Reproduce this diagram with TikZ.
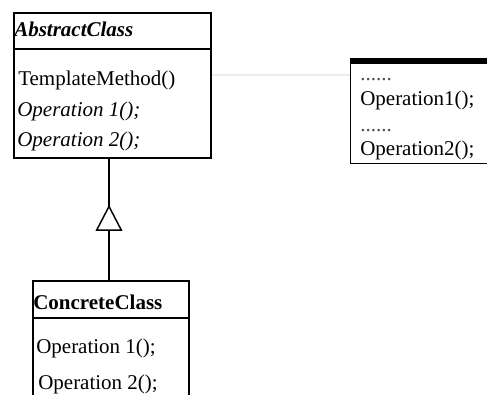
\documentclass[tikz,border=0pt]{standalone}
\usepackage{fontspec}
\setmainfont{Liberation Serif}
\usetikzlibrary{arrows.meta,decorations.markings}

\tikzset{
  classbox/.style={draw, line width=1.3pt, inner sep=0pt, anchor=north west},
  member/.style={anchor=base west, inner sep=0pt, font=\fontsize{15.75}{18}\selectfont},
  inherit/.style={line width=1.1pt, postaction={decorate},
    decoration={markings, mark=at position 0.62 with {\arrow{Triangle[fill=white, length=19.5pt, width=20pt, line width=1.1pt]}}}},
}

\begin{document}
\begin{tikzpicture}[x=0.75pt,y=0.75pt,yscale=-1,xscale=1]
\useasboundingbox (0,0) rectangle (487,394);

%Class: AbstractClass
\node [classbox, minimum width=197*0.75pt, minimum height=145*0.75pt] (abstract) at (13,12) {};
\draw [line width=1.3pt] (abstract.west |- 0,49) -- (abstract.east |- 0,49);
\node [member] (abstractname) at (14,36) {\bfseries\itshape AbstractClass};
\node [member] (tmethod) at (18,85) {TemplateMethod()};
\node [member] (absop1) at (17,116) {\itshape Operation 1();};
\node [member] (absop2) at (17,146) {\itshape Operation 2();};

%Class: ConcreteClass (runs off the bottom)
\node [classbox, minimum width=156*0.75pt, minimum height=130*0.75pt] (concrete) at (32,280) {};
\draw [line width=1.3pt] (concrete.west |- 0,318) -- (concrete.east |- 0,318);
\node [member] (concretename) at (33,309) {\bfseries ConcreteClass};
\node [member] (conop1) at (36,353) {Operation 1();};
\node [member] (conop2) at (38,389) {Operation 2();};

%Note with the template body
\node [classbox, line width=1pt, minimum width=150*0.75pt, minimum height=102*0.75pt] (note) at (350,61) {};
\draw [line width=4pt] (note.north west) -- (note.north east);
\node [member, black!70] (dots1) at (360,80) {......};
\node [member] (noteop1) at (360,105) {Operation1();};
\node [member, black!70] (dots2) at (360,131) {......};
\node [member] (noteop2) at (360,155) {Operation2();};

% note link
\draw [black!7, line width=1pt] (abstract.east |- 0,75) -- (note.west |- 0,75);

% generalization
\draw [inherit] (concrete.north -| 109,0) -- (abstract.south -| 109,0);

\end{tikzpicture}
\end{document}
